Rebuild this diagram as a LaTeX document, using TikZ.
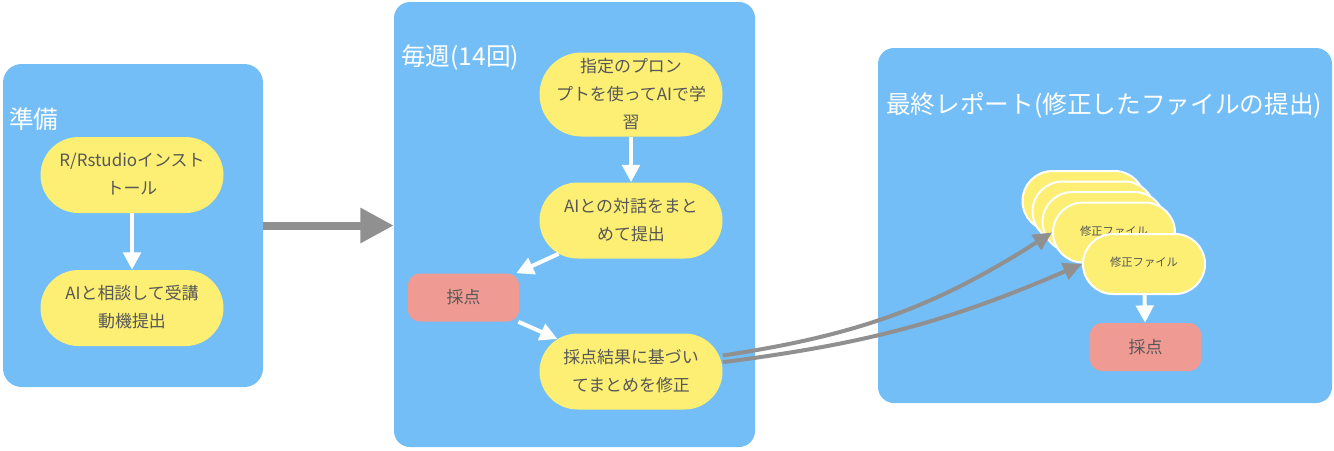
\documentclass[tikz,border=0pt]{standalone}
\usepackage{fontspec}
\newfontfamily\jp{Noto Sans CJK JP}
\usetikzlibrary{arrows.meta,shapes.misc}
\definecolor{panelblue}{HTML}{73BEF7}
\definecolor{nodeyellow}{HTML}{FCEF74}
\definecolor{nodered}{HTML}{EF9B93}
\definecolor{txtgray}{HTML}{575757}
\definecolor{arrgray}{HTML}{909090}
\newcommand{\zwtext}[1]{\makebox[0pt][c]{\begin{tabular}{@{}c@{}}#1\end{tabular}}}
\tikzset{
  panel/.style={fill=panelblue, draw=none, rounded corners=12pt, inner sep=0pt},
  ptitle/.style={anchor=west, text=white, font=\jp\fontsize{18.5}{22}\selectfont, inner sep=0pt},
  stadium/.style={rounded rectangle, fill=nodeyellow, draw=none, minimum width=137.25pt, minimum height=57pt, inner sep=0pt, text=txtgray, font=\jp\fontsize{12.7}{21}\selectfont},
  filebox/.style={rounded rectangle, fill=nodeyellow, draw=white, line width=1.5pt, minimum width=91.5pt, minimum height=45pt, inner sep=0pt, text=txtgray, font=\jp\fontsize{8.5}{10}\selectfont},
  redbox/.style={fill=nodered, draw=none, rounded corners=9pt, minimum width=83.5pt, minimum height=36pt, inner sep=0pt, text=txtgray, font=\jp\fontsize{12.7}{15}\selectfont},
  warrow/.style={draw=white, line width=3pt, -{Triangle[length=13pt,width=13pt]}},
  garrow/.style={draw=arrgray, line width=3pt, -{Triangle[length=14pt,width=13pt]}},
  bigarrow/.style={draw=arrgray, line width=6pt, -{Triangle[length=25pt,width=25pt]}}
}
\begin{document}
\begin{tikzpicture}[x=0.75pt,y=-0.75pt]
\useasboundingbox (0,0) rectangle (1334,450);
% panels
\node[panel, rounded corners=14pt, minimum width=195pt, minimum height=242.25pt] (p1) at (133,225.5) {};
\node[panel, minimum width=270.75pt, minimum height=333.75pt] (p2) at (574.5,224.5) {};
\node[panel, minimum width=340.5pt, minimum height=266.25pt] (p3) at (1105,225.5) {};
% titles
\node[ptitle] (t1) at (9,119) {準備};
\node[ptitle] (t2) at (401,58) {毎週(14回)};
\node[ptitle] (t3) at (886,105) {最終レポート(修正したファイルの提出)};
% panel 1
\node[stadium] (n1) at (132,175) {\zwtext{R/Rstudioインスト\\トール}};
\node[stadium] (n2) at (132,308) {\zwtext{AIと相談して受講\\動機提出}};
\draw[warrow] (n1) -- (n2);
% panel 2
\node[stadium] (m1) at (631,94.5) {\zwtext{指定のプロン\\プトを使ってAIで学\\習}};
\node[stadium] (m2) at (631,220.5) {\zwtext{AIとの対話をまと\\めて提出}};
\node[redbox] (r1) at (463.5,297.5) {採点};
\node[stadium] (m4) at (631,371.5) {\zwtext{採点結果に基づい\\てまとめを修正}};
\draw[warrow] (m1) -- (m2);
\draw[warrow] (m2) -- (r1);
\draw[warrow] (r1) -- (m4);
% panel 3
\node[filebox] (f1) at (1083.5,201) {};
\node[filebox] (f2) at (1093.5,211.5) {};
\node[filebox] (f3) at (1103.5,222) {};
\node[filebox] (f4) at (1114,232.5) {\zwtext{修正ファイル}};
\node[filebox] (f5) at (1144,264) {\zwtext{修正ファイル}};
\node[redbox] (r2) at (1145.5,347) {採点};
\draw[warrow] (f5) -- (r2);
% connectors between panels
\draw[bigarrow] (p1.east) -- (p1.east -| p2.west);
\draw[garrow] ([yshift=12pt]m4.east) to[bend right=12] (f4.west);
\draw[garrow] ([yshift=7pt]m4.east) to[bend right=8] (f5.west);
\end{tikzpicture}
\end{document}
